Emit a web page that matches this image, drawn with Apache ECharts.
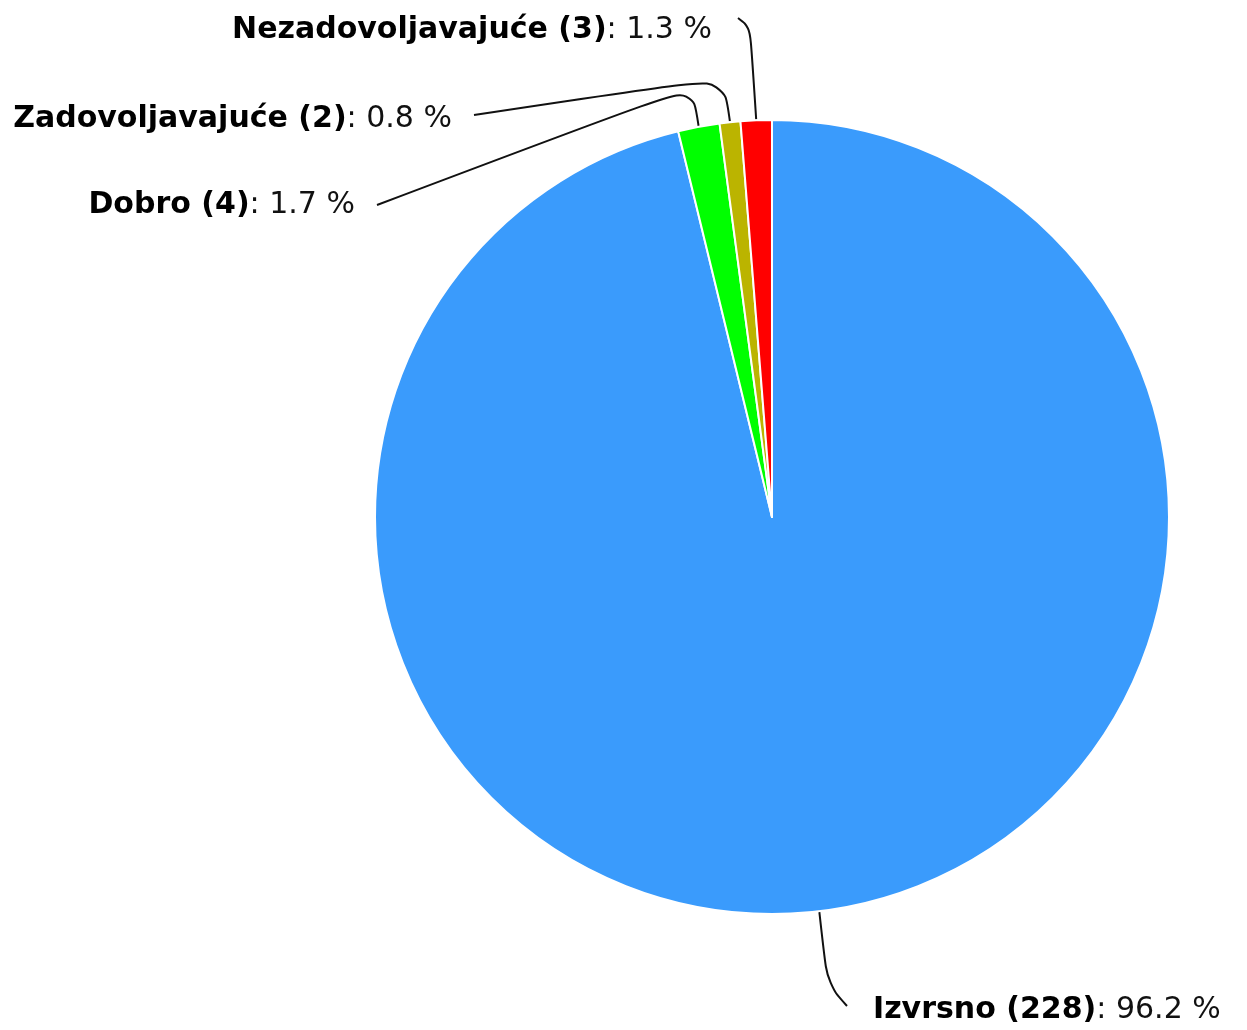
<!DOCTYPE html>
<html>
<head>
<meta charset="utf-8">
<script src="https://cdn.jsdelivr.net/npm/echarts@6/dist/echarts.min.js"></script>
<style>
html,body{margin:0;padding:0;background:#fff;}
#chart{width:1247px;height:1030px;}
</style>
</head>
<body>
<div id="chart"></div>
<script>
// ---- data ----
const categories = ['Izvrsno', 'Dobro', 'Zadovoljavajuće', 'Nezadovoljavajuće'];
const counts = [228, 4, 2, 3];
const colors = ['#3a9bfc', '#00ff00', '#bbb400', '#ff0000'];

// ---- layout (label placement, not data) ----
const CX = 772, CY = 517, R = 397;
const labelPlace = [
  { x: 873, y: 1010, align: 'left',  elbowDy: 72,  endDx: -26, endDy: -4 },
  { x: 355, y: 205,  align: 'right', elbowDy: -40, endDx: 22,  endDy: 0 },
  { x: 452, y: 119,  align: 'right', elbowDy: -44, endDx: 22,  endDy: -4 },
  { x: 712, y: 30,   align: 'right', elbowDy: -92, endDx: 26,  endDy: -12 }
];

const total = counts.reduce((a, b) => a + b, 0);
function midAngle(i) {
  let before = 0;
  for (let k = 0; k < i; k++) before += counts[k];
  const frac = (before + counts[i] / 2) / total;
  return (90 - frac * 360) * Math.PI / 180; // clockwise from top
}

const chart = echarts.init(document.getElementById('chart'));
chart.setOption({
  animation: false,
  backgroundColor: '#fff',
  series: [{
    type: 'pie',
    center: [CX, CY],
    radius: R,
    startAngle: 90,
    clockwise: true,
    avoidLabelOverlap: false,
    percentPrecision: 1,
    itemStyle: { borderColor: '#fff', borderWidth: 2 },
    emphasis: { disabled: true },
    data: categories.map((c, i) => ({ name: c, value: counts[i], itemStyle: { color: colors[i] } })),
    label: {
      show: true,
      position: 'outside',
      fontFamily: 'DejaVu Sans',
      fontSize: 30,
      color: '#111',
      formatter: p => '{b|' + p.name + ' (' + p.value + ')}: ' + p.percent.toFixed(1) + ' %',
      rich: {
        b: { fontFamily: 'DejaVu Sans', fontSize: 30, fontWeight: 'bold', color: '#000' }
      }
    },
    labelLine: {
      show: true,
      smooth: 0.4,
      lineStyle: { color: '#111', width: 2 }
    },
    labelLayout: function (params) {
      const i = params.dataIndex;
      const pl = labelPlace[i];
      const a = midAngle(i);
      const p0 = [CX + (R + 1) * Math.cos(a), CY - (R + 1) * Math.sin(a)];
      const p1 = [p0[0] + (i === 0 ? 8 : -6), p0[1] + pl.elbowDy];
      const p2 = [pl.x + pl.endDx, pl.y + pl.endDy];
      return {
        x: pl.x,
        y: pl.y,
        align: pl.align,
        verticalAlign: 'middle',
        labelLinePoints: [p0, p1, p2]
      };
    }
  }]
});
</script>
</body>
</html>
